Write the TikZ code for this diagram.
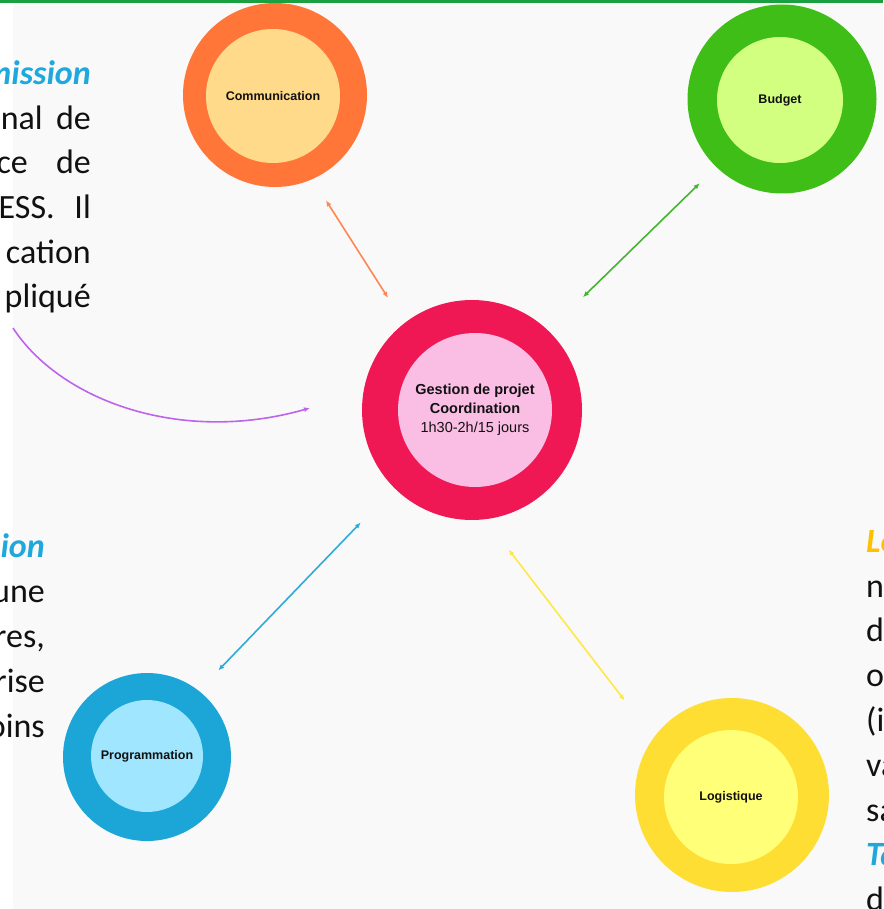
\documentclass[tikz,border=0pt]{standalone}
\usepackage{fontspec}
\setmainfont{Carlito}
\newfontfamily\diagfont{Liberation Sans}
\usetikzlibrary{arrows.meta}
\definecolor{bgc}{RGB}{249,249,249}
\definecolor{topgreen}{RGB}{26,160,64}
\definecolor{comOut}{RGB}{255,118,56}
\definecolor{comIn}{RGB}{255,218,138}
\definecolor{budOut}{RGB}{62,190,22}
\definecolor{budIn}{RGB}{210,255,128}
\definecolor{ctrOut}{RGB}{240,24,84}
\definecolor{ctrIn}{RGB}{250,190,228}
\definecolor{proOut}{RGB}{28,166,216}
\definecolor{proIn}{RGB}{160,230,255}
\definecolor{logOut}{RGB}{255,222,52}
\definecolor{logIn}{RGB}{255,255,120}
\definecolor{arrOrange}{RGB}{255,135,85}
\definecolor{arrGreen}{RGB}{70,180,50}
\definecolor{arrBlue}{RGB}{50,170,215}
\definecolor{arrYellow}{RGB}{255,232,70}
\definecolor{arrPurple}{RGB}{190,100,235}
\definecolor{txtBlue}{RGB}{30,168,220}
\definecolor{txtOrange}{RGB}{255,192,0}
\definecolor{ink}{RGB}{17,17,17}
\begin{document}
\begin{tikzpicture}[x=1pt,y=-1pt,
  ring/.style={circle, inner sep=0pt, draw=none},
  label/.style={ring, text=ink, font=\diagfont\bfseries\fontsize{12.5}{15}\selectfont, align=center},
  link/.style={line width=1.6pt, {Latex[length=6pt,width=5pt]}-{Latex[length=6pt,width=5pt]}},
  doc/.style={font=\fontsize{34}{44.7}\selectfont, inner sep=0pt, text=ink},
  docr/.style={doc, anchor=base east},
  docl/.style={doc, anchor=base west},
  head/.style={font=\fontsize{34}{44.7}\selectfont\bfseries\itshape, inner sep=0pt}
]
\useasboundingbox (0,0) rectangle (883,909);
\fill[white] (0,0) rectangle (883,909);
\fill[bgc] (13,3) rectangle (883,909);
\fill[topgreen] (0,0) rectangle (883,3);

% circles
\node[ring, minimum size=184pt, fill=comOut] (com) at (275,95) {};
\node[label, minimum size=134pt, fill=comIn] (comi) at (273,96) {Communication};
\node[ring, minimum size=189pt, fill=budOut] (bud) at (782,99) {};
\node[label, minimum size=126pt, fill=budIn] (budi) at (780,100) {Budget};
\node[ring, minimum size=220pt, fill=ctrOut] (ctr) at (472,410) {};
\node[ring, minimum size=154pt, fill=ctrIn, text=ink, align=center,
      font=\diagfont\fontsize{14.5}{19}\selectfont] (ctri) at (475,410)
      {\textbf{Gestion de projet}\\\textbf{Coordination}\\1h30-2h/15 jours};
\node[ring, minimum size=168pt, fill=proOut] (pro) at (147,757) {};
\node[label, minimum size=112pt, fill=proIn] (proi) at (147,756) {Programmation};
\node[ring, minimum size=194pt, fill=logOut] (log) at (732,795) {};
\node[label, minimum size=134pt, fill=logIn] (logi) at (731,797) {Logistique};

% connectors
\draw[link, draw=arrOrange, color=arrOrange, shorten <=25pt, shorten >=30pt] (com.-66) -- (ctr.128);
\draw[link, draw=arrGreen, color=arrGreen, shorten <=23pt, shorten >=48pt] (bud.-134) -- (ctr.46);
\draw[link, draw=arrBlue, color=arrBlue, shorten <=28pt, shorten >=48pt] (pro.52) -- (ctr.-135);
\draw[link, draw=arrYellow, color=arrYellow, shorten <=38pt, shorten >=47pt] (ctr.-83) -- (log.144);
\coordinate (pstart) at (13,328);
\coordinate (pend) at (310,408);
\draw[line width=1.6pt, draw=arrPurple, color=arrPurple, -{Latex[length=6pt,width=5pt]}]
  (pstart) .. controls (60,400) and (180,445) .. (pend);

% left text block 1
\node[head, anchor=base east, text=txtBlue] (t1) at (91,85) {mission};
\node[docr] (t2a) at (43,129.5) {nal};
\node[docr] (t2b) at (91,129.5) {de};
\node[docr] (t3a) at (28,174) {ce};
\node[docr] (t3b) at (91,174) {de};
\node[docr] (t4a) at (55,218.5) {ESS.};
\node[docr] (t4b) at (91,218.5) {Il};
\node[docr] (t5) at (91,263) {cation};
\node[docr] (t6) at (91,307.5) {pliqué};

% left text block 2
\node[head, anchor=base east, text=txtBlue] (u1) at (45,557) {ion};
\node[docr] (u2) at (45,602) {une};
\node[docr] (u3) at (45,647) {res,};
\node[docr] (u4) at (45,692) {rise};
\node[docr] (u5) at (45,737) {oins};

% right text block
\node[head, anchor=base west, text=txtOrange] (v1) at (866,552) {Le};
\node[docl] (v2) at (866,597) {n};
\node[docl] (v3) at (866,641.5) {d};
\node[docl] (v4) at (866,686.5) {o};
\node[docl] (v5) at (866,731) {(i};
\node[docl] (v6) at (866,776) {va};
\node[docl] (v7) at (866,821) {sa};
\node[head, anchor=base west, text=txtBlue] (v8) at (866,865.5) {Ta};
\node[docl] (v9) at (866,910) {d};
\end{tikzpicture}
\end{document}
